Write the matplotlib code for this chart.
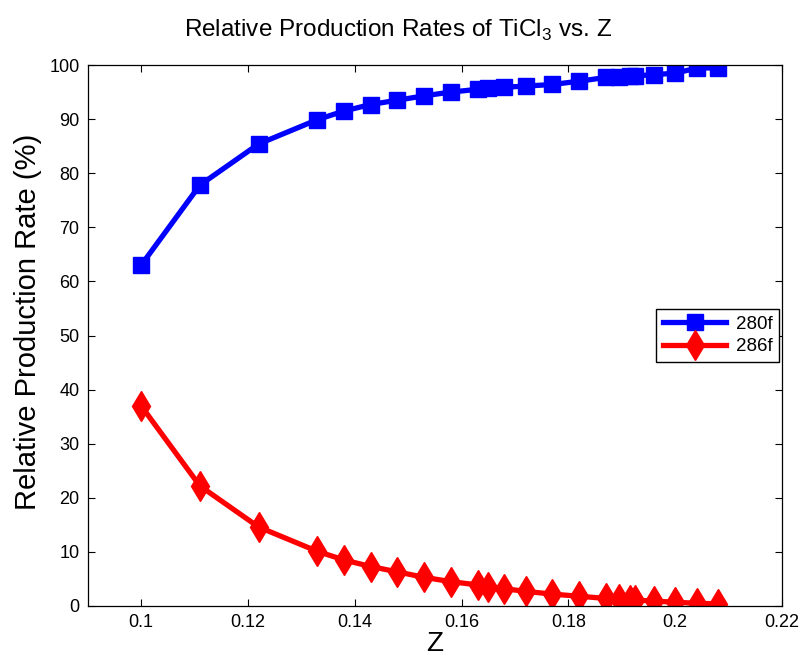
import matplotlib
matplotlib.use("Agg")
import matplotlib.pyplot as plt

plt.rcParams['font.family'] = ['Liberation Sans', 'DejaVu Sans']
plt.rcParams['mathtext.fontset'] = 'custom'
plt.rcParams['mathtext.rm'] = 'Liberation Sans'

z = [0.100, 0.111, 0.122, 0.133, 0.138, 0.143, 0.148, 0.153, 0.158, 0.163, 0.165,
     0.168, 0.172, 0.177, 0.182, 0.187, 0.1895, 0.1915, 0.1925, 0.196, 0.200, 0.204, 0.208]
rate_280f = [63.0, 77.8, 85.4, 89.9, 91.5, 92.7, 93.5, 94.3, 95.0, 95.5, 95.7,
             95.9, 96.1, 96.4, 97.0, 97.7, 97.8, 97.9, 98.0, 98.2, 98.5, 99.4, 99.5]
rate_286f = [37.0, 22.2, 14.6, 10.1, 8.5, 7.3, 6.3, 5.3, 4.5, 3.9, 3.6,
             3.2, 2.7, 2.2, 1.8, 1.4, 1.3, 1.2, 1.1, 0.9, 0.7, 0.5, 0.4]
labels = ['280f', '286f']
xticks = [0.1, 0.12, 0.14, 0.16, 0.18, 0.2, 0.22]
xticklabels = ['0.1', '0.12', '0.14', '0.16', '0.18', '0.2', '0.22']
yticks = [0, 10, 20, 30, 40, 50, 60, 70, 80, 90, 100]

fig = plt.figure(figsize=(8.05, 6.62), dpi=100)
ax = fig.add_axes([0.109, 0.0846, 0.8624, 0.8172])

ax.plot(z, rate_280f, color='#0000ff', lw=3.8, marker='s', ms=11,
        mfc='#0000ff', mec='#0000ff', label=labels[0])
ax.plot(z, rate_286f, color='#ff0000', lw=3.8, marker='d', ms=15,
        mfc='#ff0000', mec='#ff0000', label=labels[1])

ax.set_xlim(0.09, 0.22)
ax.set_ylim(0, 100)
ax.set_xticks(xticks)
ax.set_xticklabels(xticklabels)
ax.set_yticks(yticks)
ax.tick_params(direction='in', top=True, right=True, labelsize=13, length=5, width=0.8, pad=6)
for s in ax.spines.values():
    s.set_linewidth(0.9)

fig.text(0.494, 1 - 37 / 662, 'Relative Production Rates of TiCl$_{3}$ vs. Z',
         fontsize=17.5, ha='center', va='baseline')
ax.set_xlabel('Z', fontsize=20)
ax.xaxis.set_label_coords(0.5, -0.046)
ax.set_ylabel('Relative Production Rate (%)', fontsize=21)
ax.yaxis.set_label_coords(-0.066, 0.525)

leg = ax.legend(loc='center right', fontsize=13.5, fancybox=False, framealpha=1,
                edgecolor='black', borderaxespad=0.15, handlelength=3.4,
                borderpad=0.35, labelspacing=0.3, handletextpad=0.5)
leg.get_frame().set_linewidth(1.0)

fig.savefig('out.png', dpi=100)
